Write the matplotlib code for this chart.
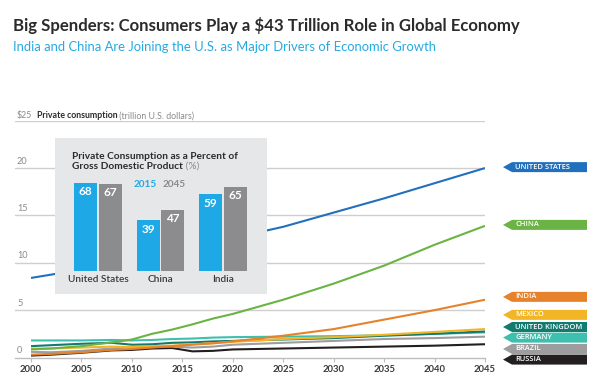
import matplotlib
matplotlib.use("Agg")
import matplotlib.pyplot as plt
from matplotlib.patches import Polygon
from matplotlib.transforms import IdentityTransform, blended_transform_factory

plt.rcParams['font.family'] = ['Lato', 'DejaVu Sans']

# ---------------- data ----------------
years = [2000, 2002, 2005, 2008, 2010, 2012, 2014, 2016, 2018, 2020, 2025, 2030, 2035, 2040, 2045]
us      = [8.4, 8.75, 9.3, 9.9, 10.2, 10.7, 11.2, 11.7, 12.2, 12.6, 13.8, 15.3, 16.8, 18.4, 20.0]
china   = [0.85, 0.95, 1.2, 1.6, 1.9, 2.5, 2.95, 3.5, 4.1, 4.6, 6.1, 7.8, 9.7, 11.9, 13.9]
india   = [0.3, 0.38, 0.55, 0.8, 0.9, 1.05, 1.2, 1.35, 1.5, 1.7, 2.3, 3.0, 4.0, 5.0, 6.1]
mexico  = [0.95, 0.95, 1.05, 1.15, 1.1, 1.2, 1.25, 1.4, 1.5, 1.65, 1.95, 2.15, 2.4, 2.7, 3.0]
uk      = [1.2, 1.3, 1.45, 1.55, 1.35, 1.4, 1.55, 1.6, 1.7, 1.75, 1.9, 2.05, 2.3, 2.5, 2.75]
germany = [1.8, 1.8, 1.8, 1.85, 1.8, 1.85, 1.95, 2.0, 2.1, 2.15, 2.2, 2.25, 2.35, 2.5, 2.65]
brazil  = [0.6, 0.55, 0.7, 0.95, 1.1, 1.2, 1.15, 1.05, 1.15, 1.35, 1.55, 1.75, 1.95, 2.05, 2.2]
russia  = [0.2, 0.3, 0.5, 0.75, 0.8, 0.95, 1.0, 0.65, 0.7, 0.85, 0.95, 1.05, 1.15, 1.25, 1.4]

series_names = ["RUSSIA", "BRAZIL", "GERMANY", "UNITED KINGDOM", "MEXICO", "INDIA", "CHINA", "UNITED STATES"]
series_values = [russia, brazil, germany, uk, mexico, india, china, us]

yticks = [0, 5, 10, 15, 20, 25]
xticks = [2000, 2005, 2010, 2015, 2020, 2025, 2030, 2035, 2040, 2045]

inset_countries = ["United States", "China", "India"]
pct_2015 = [68, 39, 59]
pct_2045 = [67, 47, 65]

# ---------------- styles ----------------
colors = {
    "UNITED STATES": "#2170be",
    "CHINA": "#6bb344",
    "INDIA": "#e6822b",
    "MEXICO": "#f2b526",
    "UNITED KINGDOM": "#137a6f",
    "GERMANY": "#3fbfae",
    "BRAZIL": "#9d9d9f",
    "RUSSIA": "#231f20",
}
tag_y = {  # vertical centre of each end tag, in data units
    "UNITED STATES": 20.1, "CHINA": 14.0, "INDIA": 6.4, "MEXICO": 4.5,
    "UNITED KINGDOM": 3.22, "GERMANY": 2.1, "BRAZIL": 0.9, "RUSSIA": -0.22,
}
BLUE = "#27a9e1"
DARK = "#2b2b2b"

W, H = 600, 380
fig = plt.figure(figsize=(W / 100, H / 100), dpi=100)
fig.patch.set_facecolor("white")


def fx(px):
    return px / W


def fy(py):
    return 1 - py / H


# ---------------- main axes ----------------
ax_l, ax_r = 15, 485
ax_top, ax_bot = 120.7, 357.5
ax = fig.add_axes([fx(ax_l), fy(ax_bot), (ax_r - ax_l) / W, (ax_bot - ax_top) / H])
x0 = 2000 - (31 - ax_l) / ((ax_r - 31) / 45)
ax.set_xlim(x0, 2045)
ax.set_ylim(0, 25)
for s in ["top", "right", "left"]:
    ax.spines[s].set_visible(False)
ax.spines["bottom"].set_color("#bdbdbd")
ax.spines["bottom"].set_linewidth(1)
ax.set_yticks(yticks[1:])
ax.yaxis.grid(True, color="#cfcfcf", lw=1)
ax.tick_params(axis="y", length=0, labelleft=False)
ax.set_xticks(xticks)
ax.set_xticklabels([str(x) for x in xticks], fontsize=6.8, color="#3a3a3a", fontweight="bold")
ax.tick_params(axis="x", length=3, color="#bdbdbd", pad=2.5)
ax.set_axisbelow(True)

for name, vals in zip(series_names, series_values):
    ax.plot(years, vals, color=colors[name], lw=1.5, solid_capstyle="butt", zorder=3)

ytrans = blended_transform_factory(ax.transAxes, ax.transData)
for v in yticks[:-1]:
    ax.text(2 / (ax_r - ax_l), v + 0.25, str(v), transform=ytrans, fontsize=6.6,
            color="#8a8a8a", va="bottom", ha="left")

renderer = fig.canvas.get_renderer()


def rich(x, y, pieces):
    """pieces: list of (text, kwargs); x,y in pixels from top-left; y = vertical centre."""
    out = []
    for s, kw in pieces:
        t = fig.text(fx(x), fy(y), s, va="center_baseline", ha="left", **kw)
        bb = t.get_window_extent(renderer=renderer)
        x += bb.width
        out.append(t)
    return out


# y-axis title row (at the 25 gridline)
y25 = H - ax.transData.transform((2000, 25))[1]
rich(17, y25 - 6, [("$25", dict(fontsize=6.3, color="#8a8a8a")),
                   ("  ", dict(fontsize=6.3)),
                   ("Private consumption", dict(fontsize=6.3, color=DARK, fontweight="bold")),
                   (" (trillion U.S. dollars)", dict(fontsize=6.3, color="#8a8a8a"))])

# ---------------- titles ----------------
fig.text(fx(13), fy(25), "Big Spenders: Consumers Play a $43 Trillion Role in Global Economy",
         fontsize=12.1, fontweight="bold", color=DARK, va="center", ha="left")
fig.text(fx(13), fy(47), "India and China Are Joining the U.S. as Major Drivers of Economic Growth",
         fontsize=9.4, color=BLUE, va="center", ha="left")

# ---------------- end tags ----------------
tag_tip, tag_notch, tag_right, tag_half = 503, 512, 587, 5.0
for name in series_names:
    yd = ax.transData.transform((2045, tag_y[name]))[1]
    pts = [(tag_tip, yd), (tag_notch, yd + tag_half), (tag_right, yd + tag_half),
           (tag_right, yd - tag_half), (tag_notch, yd - tag_half)]
    poly = Polygon(pts, closed=True, transform=IdentityTransform(), facecolor=colors[name],
                   edgecolor="none")
    fig.add_artist(poly)
    fig.text(fx(515), yd / H, name, fontsize=5.4, color="white", fontweight="semibold",
             family=["Open Sans", "DejaVu Sans"], va="center", ha="left")

# ---------------- inset ----------------
in_l, in_t, in_r, in_b = 55, 138, 267, 294
iax = fig.add_axes([fx(in_l), fy(in_b), (in_r - in_l) / W, (in_b - in_t) / H])
iax.set_zorder(5)
iax.set_facecolor("#e6e7e8")
for s in iax.spines.values():
    s.set_visible(False)
iax.set_xticks([])
iax.set_yticks([])
px_per_group = 62.5
px_per_pct = 1.3
first_center = 43
base_off = in_b - 271
iax.set_xlim(-first_center / px_per_group, (in_r - in_l - first_center) / px_per_group)
iax.set_ylim(-base_off / px_per_pct, (in_b - in_t - base_off) / px_per_pct)
bw = 23 / px_per_group
off = 12.5 / px_per_group
pos = list(range(len(inset_countries)))
b1 = iax.bar([p - off for p in pos], pct_2015, width=bw, color="#1ea9e6")
b2 = iax.bar([p + off for p in pos], pct_2045, width=bw, color="#8c8c8e")
for bars, vals in ((b1, pct_2015), (b2, pct_2045)):
    for rect, v in zip(bars, vals):
        iax.text(rect.get_x() + rect.get_width() / 2, v - 9 / px_per_pct, str(v),
                 ha="center", va="center", color="white", fontsize=8.5, fontweight="bold")
for p, name in zip(pos, inset_countries):
    iax.text(p, -8 / px_per_pct, name, ha="center", va="center", fontsize=7.3,
             color="#3a3a3a", fontweight="semibold")

inset_texts = []
inset_texts += rich(72, 155, [("Private Consumption as a Percent of",
                               dict(fontsize=7.3, color=DARK, fontweight="bold"))])
inset_texts += rich(72, 165.5, [("Gross Domestic Product", dict(fontsize=7.3, color=DARK, fontweight="bold")),
                                (" (%)", dict(fontsize=7.3, color="#8a8a8a"))])
inset_texts += rich(134, 183.5, [("2015", dict(fontsize=7.2, color="#1ea9e6", fontweight="bold")),
                                 ("  ", dict(fontsize=7.2)),
                                 ("2045", dict(fontsize=7.2, color="#8c8c8e", fontweight="bold"))])
for t in inset_texts:
    t.set_zorder(10)

fig.savefig("out.png", dpi=100)
